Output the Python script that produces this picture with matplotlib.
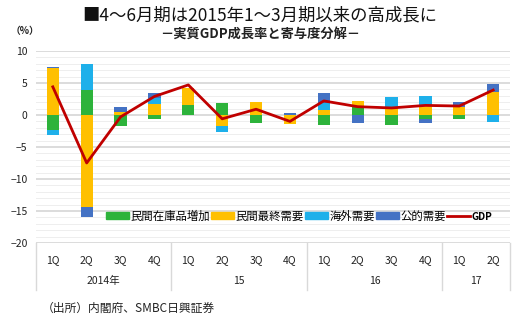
import numpy as np
import matplotlib
matplotlib.use("Agg")
import matplotlib.pyplot as plt
from matplotlib.patches import Patch
from matplotlib.lines import Line2D

plt.rcParams['font.family'] = ['Noto Sans CJK JP', 'DejaVu Sans']

# data (contributions, % points)
quarters = ["1Q", "2Q", "3Q", "4Q", "1Q", "2Q", "3Q", "4Q", "1Q", "2Q", "3Q", "4Q", "1Q", "2Q"]
years = ["2014年", "15", "16", "17"]
year_spans = [(0, 4), (4, 8), (8, 12), (12, 14)]
inventory = [-2.3, 3.9, -1.8, -0.6, 1.6, 1.8, -1.2, 0.0, -1.5, 1.3, -1.6, -0.6, -0.6, 0.0]
private_final = [7.3, -14.4, 0.5, 1.7, 2.6, -1.8, 2.0, -1.4, 0.8, 0.9, 1.3, 1.5, 1.2, 3.6]
external = [-0.8, 4.1, 0.0, 0.9, 0.0, -0.8, 0.0, 0.0, 1.0, 0.0, 1.5, 1.4, 0.0, -1.1]
public = [0.2, -1.5, 0.8, 0.9, 0.0, 0.0, 0.1, 0.3, 1.6, -1.3, 0.0, -0.6, 0.8, 1.2]
gdp = [4.4, -7.5, -0.3, 2.9, 4.7, -0.6, 0.9, -1.0, 2.2, 1.3, 1.1, 1.5, 1.4, 3.9]

series = [("民間在庫品増加", inventory, "#2DB33B"),
          ("民間最終需要", private_final, "#FFC000"),
          ("海外需要", external, "#1EB0EA"),
          ("公的需要", public, "#4472C4")]

fig = plt.figure(figsize=(5.2, 3.23), dpi=100)
ax = fig.add_axes([0.069, 0.248, 0.912, 0.594])

x = np.arange(len(quarters))
pos_base = np.zeros(len(x))
neg_base = np.zeros(len(x))
for name, vals, col in series:
    v = np.array(vals)
    bottom = np.where(v >= 0, pos_base, neg_base)
    ax.bar(x, v, 0.36, bottom=bottom, color=col, zorder=3)
    pos_base = pos_base + np.where(v >= 0, v, 0)
    neg_base = neg_base + np.where(v < 0, v, 0)

ax.plot(x, gdp, color="#C00000", lw=2, zorder=4)

# grid
for yv in range(-20, 11):
    if yv % 5 == 0:
        ax.axhline(yv, color="#d9d9d9", lw=1.3, zorder=1)
    else:
        ax.axhline(yv, color="#eeeeee", lw=0.7, zorder=1)

ax.set_xlim(-0.5, len(x) - 0.5)
ax.set_ylim(-20, 10)
ax.set_yticks(range(-20, 11, 5))
ax.tick_params(axis='y', length=0, labelsize=7.5, pad=6, colors="#222222")
ax.set_xticks(x)
ax.set_xticklabels(quarters)
ax.tick_params(axis='x', length=0, labelsize=7.5, pad=9, colors="#222222")
for s in ax.spines.values():
    s.set_visible(False)

# year labels and separators under the axis
trans = ax.get_xaxis_transform()
for (a, b), yl in zip(year_spans, years):
    ax.text((a + b - 1) / 2, -0.2, yl, transform=trans, ha='center', va='center',
            fontsize=7.5, color="#222222")
for sep in [-0.5, 3.5, 7.5, 11.5, 13.5]:
    ax.plot([sep, sep], [0, -0.245], transform=trans, color="#d9d9d9", lw=1, clip_on=False)

handles = [Patch(color=c, label=n) for n, v, c in series]
handles.append(Line2D([], [], color="#C00000", lw=2, label="GDP"))
leg = ax.legend(handles=handles, ncol=5, loc='center', bbox_to_anchor=(0.555, 0.14),
                frameon=False, fontsize=8.2, handlelength=2.0, handleheight=0.5,
                handletextpad=0.1, columnspacing=0.15, borderaxespad=0)
for t in leg.get_texts():
    if t.get_text() == "GDP":
        t.set_fontweight('bold')
        t.set_fontsize(7.2)

fig.text(0.5, 0.953, "■4～6月期は2015年1～3月期以来の高成長に", ha='center', va='center',
         fontsize=12.5, color="#111111")
fig.text(0.5, 0.895, "－実質GDP成長率と寄与度分解－", ha='center', va='center',
         fontsize=9.5, fontweight='bold', color="#222222")
fig.text(0.02, 0.905, "（%）", ha='left', va='center', fontsize=7, fontweight='bold', color="#222222")
fig.text(0.08, 0.045, "（出所）内閣府、SMBC日興証券", ha='left', va='center', fontsize=8.5, color="#222222")

fig.savefig("out.png", dpi=100)
